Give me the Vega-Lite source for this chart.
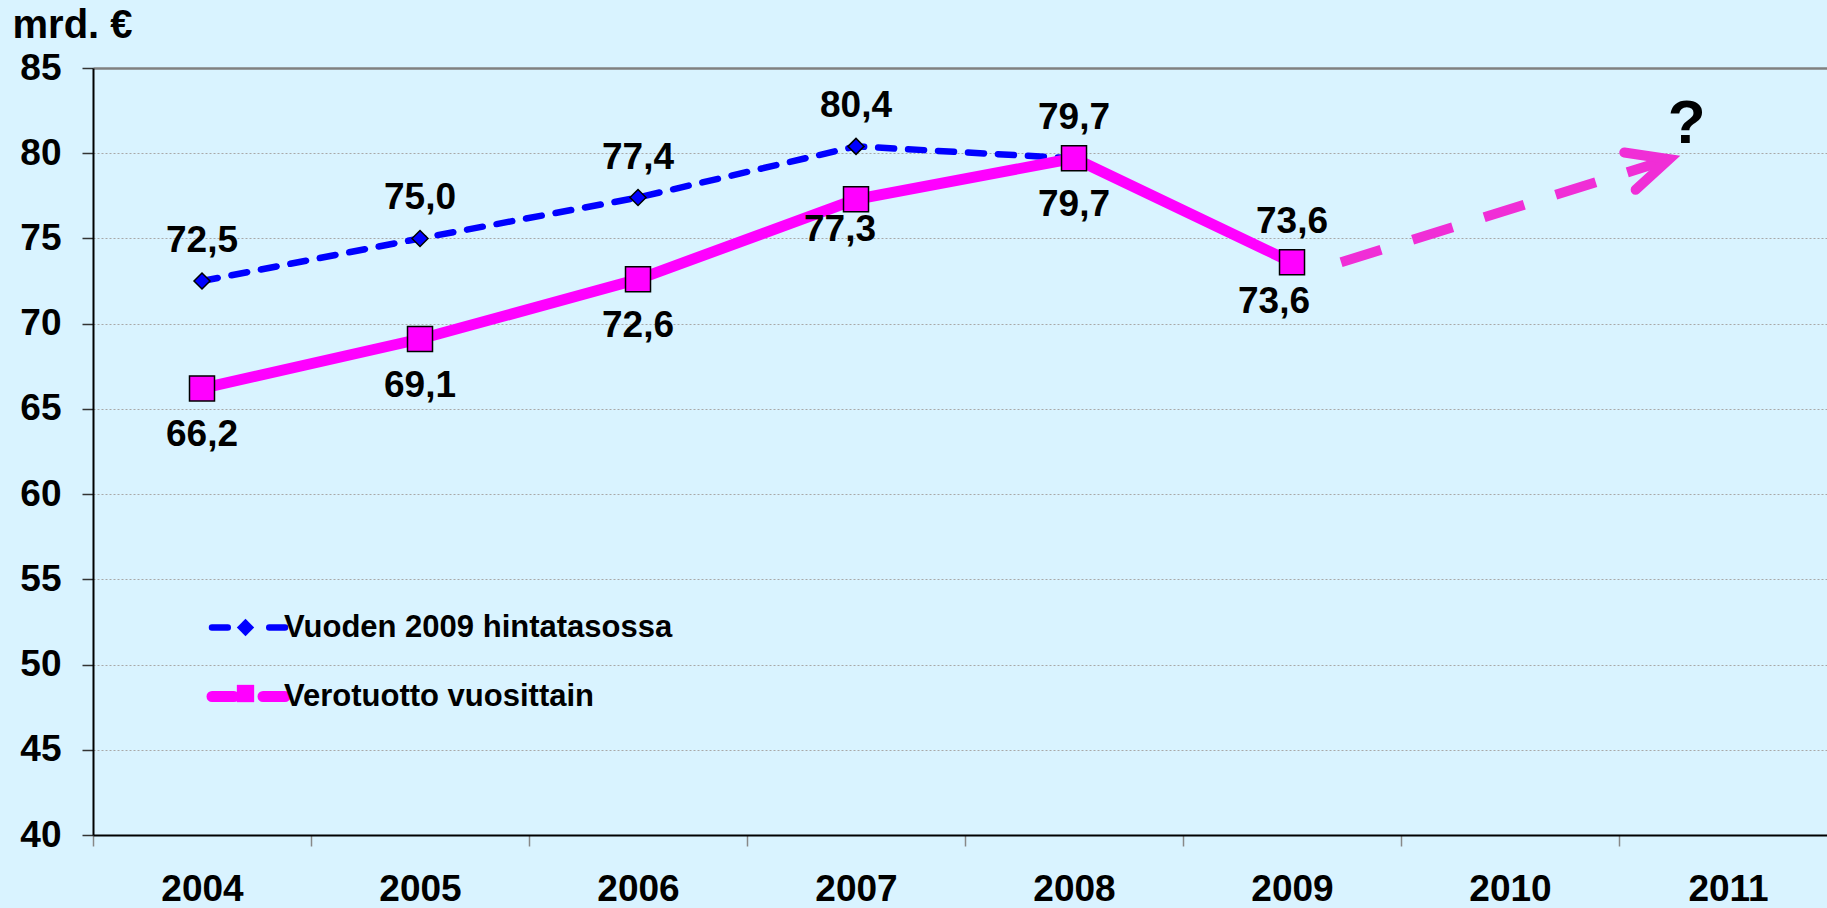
{
  "$schema": "https://vega.github.io/schema/vega-lite/v6.json",
  "width": 1734,
  "height": 767,
  "autosize": "none",
  "padding": {"left": 93, "top": 68, "right": 0, "bottom": 73},
  "background": "#D9F3FF",
  "config": {
    "view": {"stroke": null},
    "font": "Liberation Sans",
    "locale": {"number": {"decimal": ",", "thousands": "\u00a0", "grouping": [3], "currency": ["", "\u00a0€"]}}
  },
  "datasets": {
    "main": [
      {"year": 2004, "series": "Vuoden 2009 hintatasossa", "value": 72.5},
      {"year": 2005, "series": "Vuoden 2009 hintatasossa", "value": 75.0},
      {"year": 2006, "series": "Vuoden 2009 hintatasossa", "value": 77.4},
      {"year": 2007, "series": "Vuoden 2009 hintatasossa", "value": 80.4},
      {"year": 2008, "series": "Vuoden 2009 hintatasossa", "value": 79.7},
      {"year": 2009, "series": "Vuoden 2009 hintatasossa", "value": 73.6},
      {"year": 2004, "series": "Verotuotto vuosittain", "value": 66.2},
      {"year": 2005, "series": "Verotuotto vuosittain", "value": 69.1},
      {"year": 2006, "series": "Verotuotto vuosittain", "value": 72.6},
      {"year": 2007, "series": "Verotuotto vuosittain", "value": 77.3},
      {"year": 2008, "series": "Verotuotto vuosittain", "value": 79.7},
      {"year": 2009, "series": "Verotuotto vuosittain", "value": 73.6}
    ],
    "arrow": [
      {"year": 2009.225, "value": 73.6, "part": "start"},
      {"year": 2010.73, "value": 79.65, "part": "tip"}
    ],
    "note": [
      {"year": 2010.81, "value": 80.6, "label": "?"}
    ]
  },
  "data": {"name": "main"},
  "encoding": {
    "x": {
      "field": "year",
      "type": "quantitative",
      "scale": {"domain": [2003.5, 2011.454], "nice": false, "zero": false},
      "axis": {
        "values": [2003.5, 2004.5, 2005.5, 2006.5, 2007.5, 2008.5, 2009.5, 2010.5],
        "labelExpr": "format(datum.value + 0.5, 'd')",
        "labelOffset": 109,
        "labelFontSize": 37,
        "labelFontWeight": "bold",
        "labelColor": "black",
        "labelPadding": 54,
        "labelBaseline": "alphabetic",
        "labelOverlap": false,
        "labelFlush": false,
        "labelBound": false,
        "tickSize": 11,
        "tickColor": "#888888",
        "tickWidth": 1.5,
        "domainColor": "black",
        "domainWidth": 2,
        "grid": false,
        "title": null
      }
    },
    "y": {
      "field": "value",
      "type": "quantitative",
      "scale": {"domain": [40, 85], "nice": false, "zero": false},
      "axis": {
        "values": [40, 45, 50, 55, 60, 65, 70, 75, 80, 85],
        "tickSize": 11,
        "tickColor": "#333333",
        "tickWidth": 1.5,
        "domainColor": "black",
        "domainWidth": 2,
        "labelFontSize": 37,
        "labelFontWeight": "bold",
        "labelColor": "black",
        "labelPadding": 21,
        "grid": true,
        "gridColor": {"condition": {"test": "datum.value === 85", "value": "#808080"}, "value": "#a8a8a8"},
        "gridDash": {"condition": {"test": "datum.value === 85", "value": []}, "value": [2, 2]},
        "gridWidth": {"condition": {"test": "datum.value === 85", "value": 2.5}, "value": 1},
        "title": "mrd. €",
        "titleAngle": 0,
        "titleAlign": "left",
        "titleBaseline": "alphabetic",
        "titleX": -81,
        "titleY": -31,
        "titleFontSize": 40,
        "titleFontWeight": "bold",
        "titleColor": "black"
      }
    }
  },
  "layer": [
    {
      "transform": [{"filter": "datum.series === 'Vuoden 2009 hintatasossa'"}],
      "mark": {"type": "line", "strokeWidth": 6.5, "strokeDash": [16, 14], "strokeCap": "round"},
      "encoding": {
        "color": {
          "field": "series",
          "type": "nominal",
          "scale": {"domain": ["Vuoden 2009 hintatasossa", "Verotuotto vuosittain"], "range": ["#0000FF", "#FF00FF"]},
          "legend": {
            "orient": "none",
            "legendX": 140,
            "legendY": 544,
            "title": null,
            "padding": 0,
            "symbolType": "stroke",
            "symbolSize": 5329,
            "symbolStrokeWidth": 6.5,
            "labelFontSize": 31,
            "labelFontWeight": "bold",
            "labelColor": "black",
            "labelOffset": 20,
            "labelLimit": 800,
            "rowPadding": 31,
            "zindex": 0,
            "encode": {
              "symbols": {
                "update": {
                  "strokeDash": {"signal": "datum.value === 'Vuoden 2009 hintatasossa' ? [15.75, 41.5, 15.75] : [22, 29, 22]"},
                  "strokeWidth": {"signal": "datum.value === 'Vuoden 2009 hintatasossa' ? 6.5 : 11"},
                  "strokeCap": {"value": "round"}
                }
              }
            }
          }
        }
      }
    },
    {
      "transform": [{"filter": "datum.series === 'Vuoden 2009 hintatasossa'"}],
      "mark": {"type": "point", "filled": true, "size": 256, "stroke": "black", "strokeWidth": 1.5, "opacity": 1},
      "encoding": {
        "shape": {
          "field": "series",
          "type": "nominal",
          "sort": "descending",
          "scale": {"range": ["diamond", "square"]},
          "legend": {
            "orient": "none",
            "legendX": 137,
            "legendY": 544,
            "title": null,
            "padding": 0,
            "symbolSize": 300,
            "symbolStrokeColor": "black",
            "symbolStrokeWidth": 1.5,
            "symbolOpacity": 1,
            "labelFontSize": 31,
            "labelFontWeight": "bold",
            "labelOpacity": 0,
            "labelLimit": 800,
            "rowPadding": 34,
            "zindex": 5
          }
        },
        "fill": {
          "field": "series",
          "type": "nominal",
          "sort": "descending",
          "scale": {"range": ["#0000FF", "#FF00FF"]}
        }
      }
    },
    {
      "transform": [{"filter": "datum.series === 'Verotuotto vuosittain'"}],
      "mark": {"type": "line", "strokeWidth": 11},
      "encoding": {
        "color": {"field": "series", "type": "nominal"}
      }
    },
    {
      "transform": [{"filter": "datum.series === 'Verotuotto vuosittain'"}],
      "mark": {"type": "point", "filled": true, "size": 625, "stroke": "black", "strokeWidth": 1.5, "opacity": 1},
      "encoding": {
        "shape": {"field": "series", "type": "nominal", "sort": "descending"},
        "fill": {"field": "series", "type": "nominal", "sort": "descending"}
      }
    },
    {
      "data": {"name": "arrow"},
      "mark": {"type": "line", "color": "#F02ED6", "strokeWidth": 10, "strokeDash": [42, 33], "strokeCap": "butt"},
      "encoding": {}
    },
    {
      "data": {"name": "arrow"},
      "transform": [{"filter": "datum.part === 'tip'"}],
      "mark": {"type": "point", "shape": "M-1,-0.475L0,0L-1,0.475", "size": 6724, "filled": false, "stroke": "#F02ED6", "strokeWidth": 10, "strokeCap": "round", "strokeJoin": "miter", "angle": 343, "opacity": 1},
      "encoding": {}
    },
    {
      "transform": [{"filter": "datum.series === 'Vuoden 2009 hintatasossa'"}],
      "mark": {"type": "text", "dy": -40, "fontSize": 37, "fontWeight": "bold", "color": "black", "baseline": "middle"},
      "encoding": {"text": {"field": "value", "type": "quantitative", "format": ".1f"}}
    },
    {
      "transform": [{"filter": "datum.series === 'Verotuotto vuosittain' && datum.year !== 2007 && datum.year !== 2009"}],
      "mark": {"type": "text", "dy": 47, "fontSize": 37, "fontWeight": "bold", "color": "black", "baseline": "middle"},
      "encoding": {"text": {"field": "value", "type": "quantitative", "format": ".1f"}}
    },
    {
      "transform": [{"filter": "datum.series === 'Verotuotto vuosittain' && datum.year === 2007"}],
      "mark": {"type": "text", "dy": 31, "dx": -16, "fontSize": 37, "fontWeight": "bold", "color": "black", "baseline": "middle"},
      "encoding": {"text": {"field": "value", "type": "quantitative", "format": ".1f"}}
    },
    {
      "transform": [{"filter": "datum.series === 'Verotuotto vuosittain' && datum.year === 2009"}],
      "mark": {"type": "text", "dy": 40, "dx": -18, "fontSize": 37, "fontWeight": "bold", "color": "black", "baseline": "middle"},
      "encoding": {"text": {"field": "value", "type": "quantitative", "format": ".1f"}}
    },
    {
      "data": {"name": "note"},
      "mark": {"type": "text", "fontSize": 62, "fontWeight": "bold", "color": "black", "baseline": "alphabetic", "align": "center"},
      "encoding": {"text": {"field": "label", "type": "nominal"}}
    }
  ]
}
